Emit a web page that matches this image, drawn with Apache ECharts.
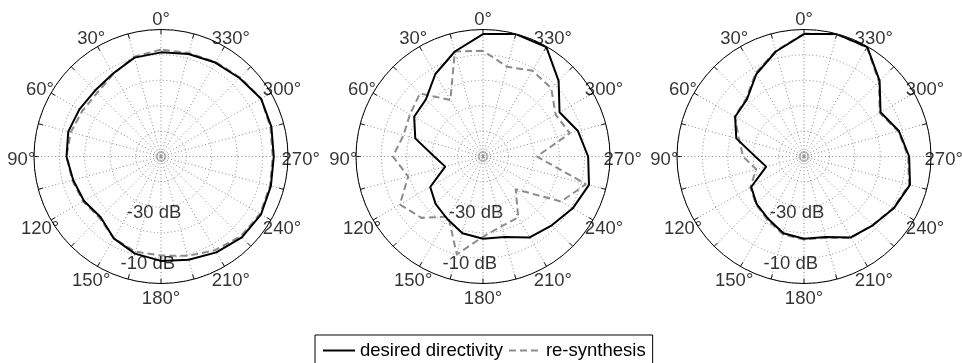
<!DOCTYPE html>
<html>
<head>
<meta charset="utf-8">
<script src="https://cdn.jsdelivr.net/npm/echarts@6/dist/echarts.min.js"></script>
<style>
  html, body { margin: 0; padding: 0; background: #fff; }
  #chart { width: 962px; height: 363px; }
</style>
</head>
<body>
<div id="chart"></div>
<script>
// Measurement angles in degrees (0 = front, counter-clockwise)
const angles = [0, 15, 30, 45, 60, 75, 90, 105, 120, 135, 150, 165,
                180, 195, 210, 225, 240, 255, 270, 285, 300, 315, 330, 345];

// Panel 1 levels in dB
const desired1 = [-9.0, -9.7, -12.3, -13.3, -12.9, -12.2, -12.8, -14.2, -15.0, -16.3, -12.8, -10.4,
                  -8.9, -7.9, -6.4, -5.0, -4.5, -5.2, -5.6, -5.0, -4.5, -6.3, -7.3, -8.2];
const resynth1 = [-7.9, -9.3, -12.5, -14.5, -14.2, -13.2, -12.8, -13.8, -14.6, -15.8, -12.8, -11.2,
                  -11.0, -9.5, -7.4, -5.6, -4.9, -5.6, -6.0, -5.4, -4.5, -6.0, -7.0, -7.8];

// Panels 2 and 3 share the same target pattern
const desired23 = [-1.8, -7.2, -12.5, -18.2, -18.7, -22.4, -30.8, -34.6, -26.0, -23.6, -21.7, -18.7,
                   -17.6, -17.2, -13.2, -11.7, -9.2, -6.8, -8.6, -11.3, -15.2, -7.9, -0.2, -0.1];
const resynth2 = [-8.4, -7.2, -24.3, -14.9, -16.8, -17.6, -14.5, -19.5, -12.2, -15.8, -22.7, -10.1,
                  -18.4, -21.6, -22.3, -31.8, -14.5, -8.0, -28.8, -14.6, -17.0, -12.0, -11.0, -13.4];
const resynth3 = [-1.6, -7.0, -12.0, -17.8, -18.5, -23.5, -26.0, -30.5, -25.6, -23.3, -21.2, -18.2,
                  -17.3, -16.9, -13.0, -11.8, -9.4, -7.2, -9.0, -11.6, -15.6, -8.3, -0.4, -0.2];

// Axis labelling
const angleTickLabels = [0, 30, 60, 90, 120, 150, 180, 210, 240, 270, 300, 330];
const dbRingLabels = [-30, -10];
const DB_MIN = -50, DB_MAX = 0, DB_STEP = 10;

const panels = [
  { desired: desired1, resynth: resynth1 },
  { desired: desired23, resynth: resynth2 },
  { desired: desired23, resynth: resynth3 }
];

const FONT = '"Liberation Sans", Arial, sans-serif';
const FONT_SIZE = 18.5;
const centersX = [161, 483, 804];
const dotted = { color: '#8a8a8a', width: 1, type: [1, 2.5] };

// closed loop: repeat the first sample at 360 deg
function loop(vals) {
  const pts = angles.map((a, i) => [vals[i], a]);
  pts.push([vals[0], 360]);
  return pts;
}

const range = DB_MAX - DB_MIN;
const tickLabelR = DB_MAX + 0.1 * range;   // angle labels sit at 1.1 x outer radius
const ringLabelR = 0.05 * range;           // ring labels sit just outside their ring
const ringLabelAngle = 173;

const polar = [], angleAxis = [], radiusAxis = [], series = [];

panels.forEach((p, i) => {
  polar.push({ center: [centersX[i], 156.5], radius: 127 });
  angleAxis.push({
    polarIndex: i, type: 'value', min: 0, max: 360, interval: 15,
    startAngle: 90, clockwise: false,
    axisLine: { show: true, lineStyle: { color: '#000', width: 1 } },
    axisTick: { show: true, inside: true, length: 5, lineStyle: { color: '#000', width: 1 } },
    axisLabel: { show: false },
    splitLine: { show: true, lineStyle: dotted }
  });
  radiusAxis.push({
    polarIndex: i, type: 'value', min: DB_MIN, max: DB_MAX, interval: DB_STEP,
    axisLine: { show: false }, axisTick: { show: false }, axisLabel: { show: false },
    splitLine: { show: true, lineStyle: dotted }
  });

  // small rings at the pole
  [10, 4].forEach(sz => series.push({
    type: 'scatter', coordinateSystem: 'polar', polarIndex: i, silent: true, z: 1,
    symbol: 'circle', symbolSize: sz,
    itemStyle: { color: 'rgba(0,0,0,0)', borderColor: '#999', borderWidth: 1 },
    data: [[DB_MIN, 0]]
  }));

  series.push({
    name: 're-synthesis', type: 'line', coordinateSystem: 'polar', polarIndex: i,
    data: loop(p.resynth), symbol: 'none', smooth: false, z: 3,
    itemStyle: { color: '#8c8c8c' },
    lineStyle: { color: '#8c8c8c', width: 2, type: [7, 4] }
  });
  series.push({
    name: 'desired directivity', type: 'line', coordinateSystem: 'polar', polarIndex: i,
    data: loop(p.desired), symbol: 'none', smooth: false, z: 4,
    itemStyle: { color: '#000' },
    lineStyle: { color: '#000', width: 2, type: 'solid' }
  });

  // angle tick labels
  series.push({
    type: 'scatter', coordinateSystem: 'polar', polarIndex: i, silent: true, clip: false, z: 5,
    symbol: 'circle', symbolSize: 1, itemStyle: { color: 'rgba(0,0,0,0)' },
    data: angleTickLabels.map(a => ({ value: [tickLabelR, a], name: a + '°' })),
    label: { show: true, position: 'inside', formatter: '{b}', color: '#000',
             fontSize: FONT_SIZE, fontFamily: FONT, offset: [0, 3] }
  });
  // dB ring labels
  series.push({
    type: 'scatter', coordinateSystem: 'polar', polarIndex: i, silent: true, clip: false, z: 5,
    symbol: 'circle', symbolSize: 1, itemStyle: { color: 'rgba(0,0,0,0)' },
    data: dbRingLabels.map(v => ({ value: [v + ringLabelR, ringLabelAngle], name: v + ' dB' })),
    label: { show: true, position: 'inside', formatter: '{b}', color: '#000',
             fontSize: FONT_SIZE, fontFamily: FONT }
  });
});

const chart = echarts.init(document.getElementById('chart'), null, { renderer: 'canvas' });
chart.setOption({
  animation: false,
  backgroundColor: '#fff',
  polar, angleAxis, radiusAxis, series,
  legend: {
    data: ['desired directivity', 're-synthesis'],
    left: 315, top: 335, orient: 'horizontal',
    padding: [6, 7, 8, 7], itemGap: 5, itemWidth: 32, itemHeight: 14,
    borderColor: '#000', borderWidth: 1, backgroundColor: '#fff', borderRadius: 0,
    selectedMode: false,
    itemStyle: { opacity: 0 },
    textStyle: { fontSize: FONT_SIZE, color: '#000', fontFamily: FONT }
  }
});
</script>
</body>
</html>
